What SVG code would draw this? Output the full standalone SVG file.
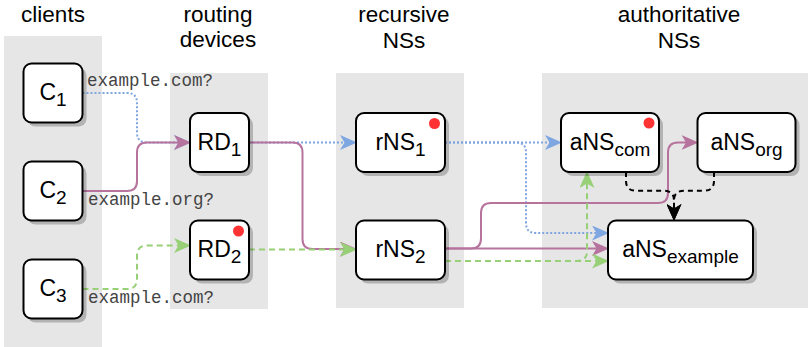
<svg xmlns="http://www.w3.org/2000/svg" width="809" height="347" viewBox="0 0 809 347">
<style>
.panel{fill:#e6e6e6}
.title{font-family:"Liberation Sans",Arial,sans-serif;font-size:22.5px;fill:#000;text-anchor:middle}
.box{fill:#fff;stroke:#000;stroke-width:2}
.shadow{fill:#000;fill-opacity:0.22}
.lbl{font-family:"Liberation Sans",Arial,sans-serif;font-size:23px;fill:#000;text-anchor:middle}
.mono{font-family:"Liberation Mono","Courier New",monospace;font-size:17.5px;fill:#444}
.dot{fill:#ff3333}
.c{fill:none;stroke-width:2}
.blue{stroke:#7ea6e0;stroke-dasharray:2 2;marker-end:url(#aB)}
.pink{stroke:#b5739d;marker-end:url(#aP)}
.green{stroke:#97d077;stroke-dasharray:6 4;marker-end:url(#aG)}
.black{stroke:#000;stroke-dasharray:5 4;marker-end:url(#aK)}
</style>
<defs>
<marker id="aB" viewBox="0 0 17 15" refX="8" refY="7.5" markerWidth="17" markerHeight="15" markerUnits="userSpaceOnUse" orient="auto"><path d="M0,0 L17,7.5 L0,15 L4.5,7.5 Z" fill="#7ea6e0"/></marker>
<marker id="aP" viewBox="0 0 17 15" refX="8" refY="7.5" markerWidth="17" markerHeight="15" markerUnits="userSpaceOnUse" orient="auto"><path d="M0,0 L17,7.5 L0,15 L4.5,7.5 Z" fill="#b5739d"/></marker>
<marker id="aG" viewBox="0 0 17 15" refX="8" refY="7.5" markerWidth="17" markerHeight="15" markerUnits="userSpaceOnUse" orient="auto"><path d="M0,0 L17,7.5 L0,15 L4.5,7.5 Z" fill="#97d077"/></marker>
<marker id="aK" viewBox="0 0 17 15" refX="8" refY="7.5" markerWidth="17" markerHeight="15" markerUnits="userSpaceOnUse" orient="auto"><path d="M0,0 L17,7.5 L0,15 L4.5,7.5 Z" fill="#000"/></marker>
</defs>

<g id="panels">
<rect class="panel" x="4" y="36" width="98" height="311"/>
<rect class="panel" x="170" y="73" width="98" height="236"/>
<rect class="panel" x="336" y="73" width="128" height="235"/>
<rect class="panel" x="542" y="73" width="266" height="235"/>
</g>

<g id="titles">
<text class="title" x="53" y="22">clients</text>
<text class="title" x="218" y="22">routing</text>
<text class="title" x="218" y="47">devices</text>
<text class="title" x="404" y="22">recursive</text>
<text class="title" x="404" y="48">NSs</text>
<text class="title" x="679" y="22">authoritative</text>
<text class="title" x="679" y="48">NSs</text>
</g>

<g id="connectors">
<path class="c blue" d="M82.5,93 H127 Q137,93 137,103 V132.5 Q137,142.5 147,142.5 H182"/>
<path class="c pink" d="M82.5,191 H127 Q137,191 137,181 V152.5 Q137,142.5 147,142.5 H182"/>
<path class="c green" d="M82.5,289 H127 Q137,289 137,279 V255.5 Q137,245.5 147,245.5 H182"/>
<path class="c blue" d="M249,142.5 H348"/>
<path class="c pink" d="M249,142.5 H292.5 Q302.5,142.5 302.5,152.5 V239 Q302.5,249 312.5,249 H348"/>
<path class="c green" d="M249,249.5 H348"/>
<path class="c blue" d="M445,142.5 H553"/>
<path class="c blue" d="M445,142.5 H516 Q526,142.5 526,152.5 V223 Q526,233 536,233 H600"/>
<path class="c pink" d="M445,248.5 H471 Q481,248.5 481,238.5 V213 Q481,203 491,203 H658 Q668,203 668,193 V152.5 Q668,142.5 678,142.5 H689.5"/>
<path class="c pink" d="M445,248.5 H600"/>
<path class="c green" d="M445,261 H577 Q587,261 587,251 V180"/>
<path class="c green" d="M445,261 H600"/>
<path class="c black" d="M626,172 V181 Q626,190.7 636,190.7 H664 Q674,190.7 674,200.7 V212"/>
<path class="c black" d="M714,172 V181 Q714,190.7 704,190.7 H684 Q674,190.7 674,200.7 V212"/>
</g>

<g id="C1">
<rect class="shadow" x="27.5" y="67.5" width="59" height="59" rx="8"/>
<rect class="box" x="23.5" y="63.5" width="59" height="59" rx="8"/>
<text class="lbl" x="53" y="100">C<tspan font-size="19" dy="6">1</tspan></text>
</g>
<g id="C2">
<rect class="shadow" x="27.5" y="165.5" width="59" height="59" rx="8"/>
<rect class="box" x="23.5" y="161.5" width="59" height="59" rx="8"/>
<text class="lbl" x="53" y="198">C<tspan font-size="19" dy="6">2</tspan></text>
</g>
<g id="C3">
<rect class="shadow" x="27.5" y="263.5" width="59" height="59" rx="8"/>
<rect class="box" x="23.5" y="259.5" width="59" height="59" rx="8"/>
<text class="lbl" x="53" y="296">C<tspan font-size="19" dy="6">3</tspan></text>
</g>
<g id="RD1">
<rect class="shadow" x="194" y="117" width="59" height="59" rx="8"/>
<rect class="box" x="190" y="113" width="59" height="59" rx="8"/>
<text class="lbl" x="219.5" y="149.5">RD<tspan font-size="19" dy="6">1</tspan></text>
</g>
<g id="RD2">
<rect class="shadow" x="194" y="224.5" width="59" height="59" rx="8"/>
<rect class="box" x="190" y="220.5" width="59" height="59" rx="8"/>
<text class="lbl" x="219.5" y="257">RD<tspan font-size="19" dy="6">2</tspan></text>
<circle class="dot" cx="238.5" cy="231" r="5.5"/>
</g>
<g id="rNS1">
<rect class="shadow" x="360" y="117" width="89" height="59" rx="8"/>
<rect class="box" x="356" y="113" width="89" height="59" rx="8"/>
<text class="lbl" x="400.5" y="149.5">rNS<tspan font-size="19" dy="6">1</tspan></text>
<circle class="dot" cx="434.5" cy="123.5" r="5.5"/>
</g>
<g id="rNS2">
<rect class="shadow" x="360" y="224.5" width="89" height="59" rx="8"/>
<rect class="box" x="356" y="220.5" width="89" height="59" rx="8"/>
<text class="lbl" x="400.5" y="257">rNS<tspan font-size="19" dy="6">2</tspan></text>
</g>
<g id="aNScom">
<rect class="shadow" x="565" y="117" width="98" height="59" rx="8"/>
<rect class="box" x="561" y="113" width="98" height="59" rx="8"/>
<text class="lbl" x="610" y="149.5">aNS<tspan font-size="19" dy="6">com</tspan></text>
<circle class="dot" cx="649" cy="123" r="5.5"/>
</g>
<g id="aNSorg">
<rect class="shadow" x="701.5" y="117" width="98" height="59" rx="8"/>
<rect class="box" x="697.5" y="113" width="98" height="59" rx="8"/>
<text class="lbl" x="746.5" y="149.5">aNS<tspan font-size="19" dy="6">org</tspan></text>
</g>
<g id="aNSexample">
<rect class="shadow" x="612" y="224.5" width="145" height="59" rx="8"/>
<rect class="box" x="608" y="220.5" width="145" height="59" rx="8"/>
<text class="lbl" x="680.5" y="257">aNS<tspan font-size="19" dy="6">example</tspan></text>
</g>

<g id="labels">
<text class="mono" x="87" y="86">example.com?</text>
<text class="mono" x="88" y="205">example.org?</text>
<text class="mono" x="88" y="303">example.com?</text>
</g>
</svg>
